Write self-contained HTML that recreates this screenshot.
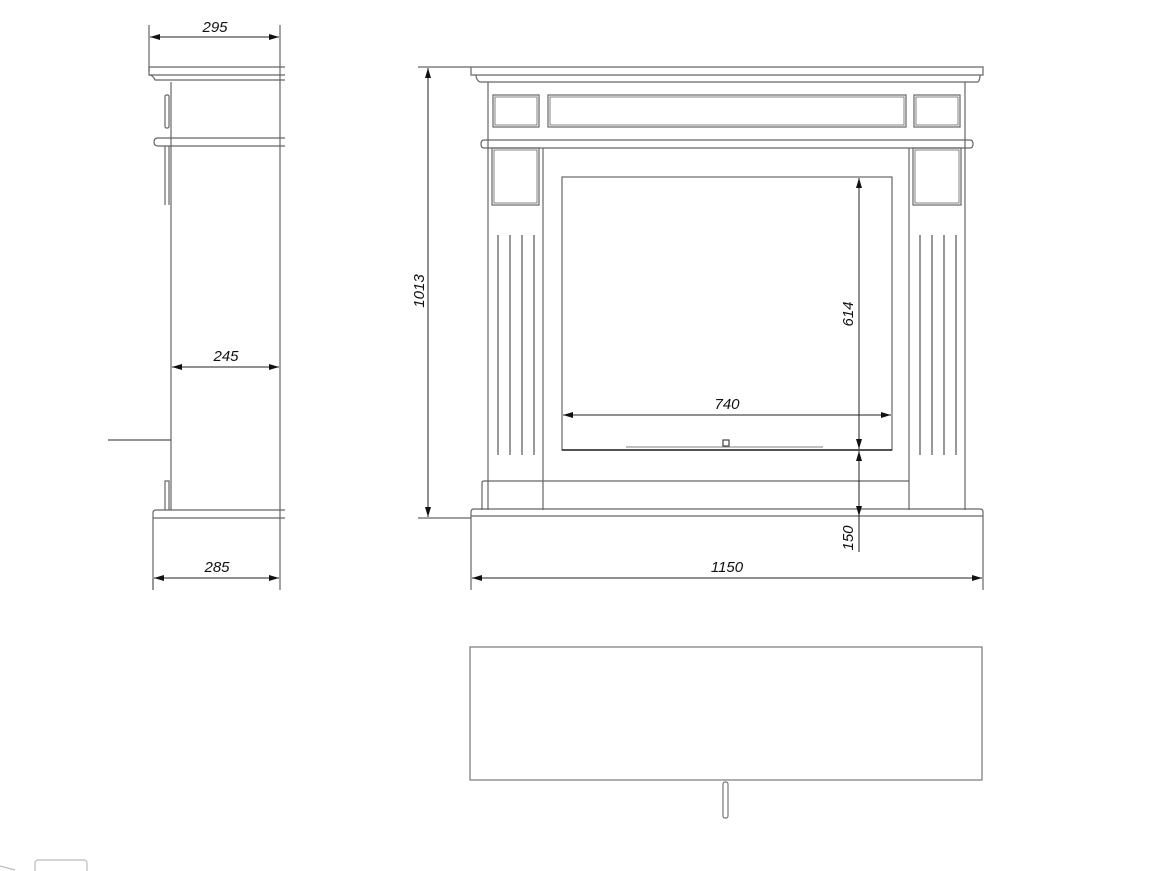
<!DOCTYPE html>
<html><head><meta charset="utf-8"><style>
html,body{margin:0;padding:0;background:#fff;width:1169px;height:871px;overflow:hidden}
svg{display:block}
text{font-family:"Liberation Sans",sans-serif;font-style:italic;font-size:15px;fill:#111}
</style></head><body>
<svg width="1169" height="871" viewBox="0 0 1169 871" xmlns="http://www.w3.org/2000/svg">
<defs>
<marker id="a" viewBox="0 0 10 6" refX="10" refY="3" markerWidth="10" markerHeight="6" orient="auto-start-reverse" markerUnits="userSpaceOnUse"><path d="M0,0 L10,3 L0,6 z" fill="#111"/></marker>
</defs>
<g fill="none" stroke="#666" stroke-width="1.2">
<!-- SIDE VIEW -->
<line x1="149" y1="25" x2="149" y2="72"/>
<line x1="280" y1="25" x2="280" y2="590"/>
<path d="M149,67 H285 M149,67 V75 H285 M149,75 Q153,75 155,80 H285"/>
<line x1="171" y1="82" x2="171" y2="510"/>
<rect x="165" y="95" width="4" height="33" rx="1.5"/>
<path d="M285,138 H158 Q154,138 154,142 Q154,146 158,146 H285"/>
<line x1="165" y1="146" x2="165" y2="205"/>
<line x1="169" y1="146" x2="169" y2="205"/>
<line x1="108" y1="440" x2="171" y2="440" stroke="#555"/>
<path d="M165,510 V481 H169 V510"/>
<path d="M153,590 V513 Q153,510 156,510 H285 M153,518 H285"/>
<line x1="153" y1="578" x2="153" y2="590"/>
<!-- FRONT VIEW -->
<path d="M418,67 H983 V75 H471 V67 M476,75 Q476,80 480,82 H978 Q980,80 980,75"/>
<line x1="488" y1="82" x2="488" y2="510"/>
<line x1="965" y1="82" x2="965" y2="510"/>
<rect x="493" y="95" width="46" height="32"/>
<rect x="495" y="97" width="42" height="28" stroke-width="0.8"/>
<rect x="548" y="95" width="358" height="32"/>
<rect x="550" y="97" width="354" height="28" stroke-width="0.8"/>
<rect x="914" y="95" width="46" height="32"/>
<rect x="916" y="97" width="42" height="28" stroke-width="0.8"/>
<path d="M484,140 H970 Q973,140 973,144 Q973,148 970,148 H484 Q481,148 481,144 Q481,140 484,140"/>
<rect x="492" y="148" width="47" height="57"/>
<rect x="494" y="150" width="43" height="53" stroke-width="0.8"/>
<rect x="913" y="148" width="48" height="57"/>
<rect x="915" y="150" width="44" height="53" stroke-width="0.8"/>
<line x1="543" y1="148" x2="543" y2="510"/>
<line x1="909" y1="148" x2="909" y2="510"/>
<g stroke="#555">
<line x1="498" y1="235" x2="498" y2="455"/><line x1="510" y1="235" x2="510" y2="455"/>
<line x1="522" y1="235" x2="522" y2="455"/><line x1="534" y1="235" x2="534" y2="455"/>
<line x1="920" y1="235" x2="920" y2="455"/><line x1="932" y1="235" x2="932" y2="455"/>
<line x1="944" y1="235" x2="944" y2="455"/><line x1="956" y1="235" x2="956" y2="455"/>
</g>
<rect x="562" y="177" width="330" height="273"/>
<line x1="562" y1="450" x2="892" y2="450" stroke="#222" stroke-width="1.6"/>
<line x1="626" y1="447" x2="823" y2="447" stroke="#999"/>
<rect x="723" y="440" width="6" height="6" stroke="#444"/>
<path d="M482,510 V483 Q482,481 484,481 H909"/>
<path d="M471,590 V512 Q471,509 474,509 H980 Q983,509 983,512 V590 M471,516 H983"/>
<line x1="418" y1="518" x2="471" y2="518"/>
<!-- bottom view -->
<rect x="470" y="647" width="512" height="133" stroke="#777"/>
<rect x="723" y="782" width="5" height="36" rx="2" stroke="#777"/>
<path d="M0,866 L15,870" stroke="#bbb"/>
<rect x="35" y="860" width="52" height="20" rx="3" stroke="#bbb"/>
</g>
<!-- dimension lines -->
<g stroke="#222" stroke-width="1" fill="none">
<line x1="150" y1="37" x2="279" y2="37" marker-start="url(#a)" marker-end="url(#a)"/>
<line x1="172" y1="367" x2="279" y2="367" marker-start="url(#a)" marker-end="url(#a)"/>
<line x1="154" y1="578" x2="279" y2="578" marker-start="url(#a)" marker-end="url(#a)"/>
<line x1="428" y1="68" x2="428" y2="517" marker-start="url(#a)" marker-end="url(#a)"/>
<line x1="563" y1="415" x2="891" y2="415" marker-start="url(#a)" marker-end="url(#a)"/>
<line x1="859" y1="178" x2="859" y2="449" marker-start="url(#a)" marker-end="url(#a)"/>
<line x1="859" y1="451" x2="859" y2="516" marker-start="url(#a)" marker-end="url(#a)"/>
<line x1="859" y1="516" x2="859" y2="552"/>
<line x1="472" y1="578" x2="982" y2="578" marker-start="url(#a)" marker-end="url(#a)"/>
</g>
<text x="215" y="32" text-anchor="middle">295</text>
<text x="226" y="361" text-anchor="middle">245</text>
<text x="217" y="572" text-anchor="middle">285</text>
<text x="727" y="409" text-anchor="middle">740</text>
<text x="727" y="572" text-anchor="middle">1150</text>
<text transform="translate(424,291) rotate(-90)" text-anchor="middle">1013</text>
<text transform="translate(853,314) rotate(-90)" text-anchor="middle">614</text>
<text transform="translate(853,538) rotate(-90)" text-anchor="middle">150</text>
</svg>
</body></html>
